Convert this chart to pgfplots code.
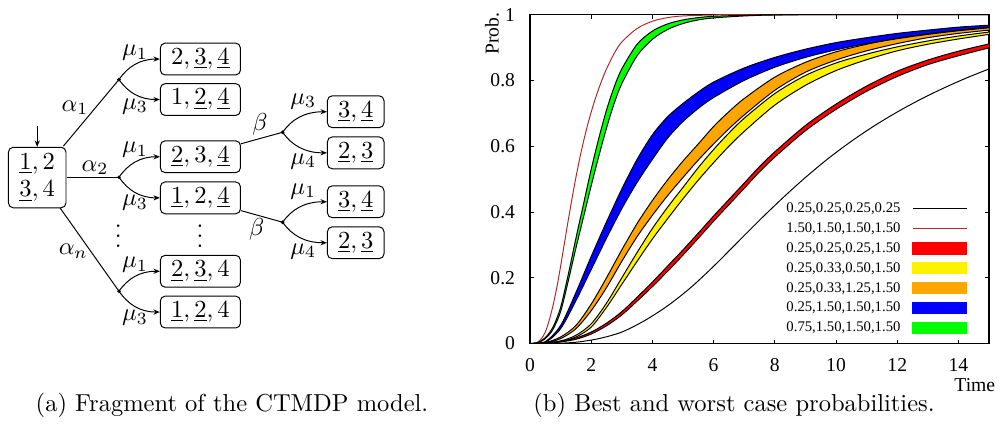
\documentclass[border=0pt]{standalone}
\usepackage{fontspec}
\newfontfamily\gp{Liberation Serif}
\usepackage{pgfplots}
\usepackage{pgfplotstable}
\pgfplotsset{compat=1.18}
\usepgfplotslibrary{fillbetween}
\usetikzlibrary{arrows.meta}
\definecolor{gpBrown}{RGB}{178,40,40}
\definecolor{gpOrange}{RGB}{255,165,0}

\pgfplotstableread{
t p
0 0
0.75 0.0005
1.5 0.004
2.25 0.015
3 0.035
3.75 0.07
4.5 0.115
5.25 0.17
6 0.235
6.75 0.305
7.5 0.375
8.25 0.442
9 0.505
9.75 0.563
10.5 0.615
11.25 0.662
12 0.704
12.75 0.742
13.5 0.776
14.25 0.807
15 0.835
}\tBlk

\pgfplotstableread{
t p
0 0
0.125 0.0005
0.25 0.004
0.375 0.015
0.5 0.035
0.625 0.07
0.75 0.115
0.875 0.17
1.0 0.235
1.125 0.305
1.25 0.375
1.375 0.442
1.5 0.505
1.625 0.563
1.75 0.615
1.875 0.662
2.0 0.704
2.125 0.742
2.25 0.776
2.375 0.807
2.5 0.835
2.75 0.882
3.0 0.917
3.5 0.958
4.0 0.98
4.5 0.991
5.0 0.996
6.0 0.999
7.0 1.0
15 1.0
}\tBrn

\pgfplotstableread{
t hi lo
0 0 0
0.5 0.0015 0.0005
1 0.007 0.005
1.5 0.017 0.013
2 0.035 0.029
2.5 0.062 0.054
3 0.097 0.087
3.5 0.141 0.129
4 0.187 0.173
4.5 0.236 0.220
5 0.285 0.269
5.5 0.336 0.320
6 0.388 0.372
6.5 0.438 0.422
7 0.488 0.472
7.5 0.538 0.522
8 0.583 0.567
9 0.663 0.647
10 0.728 0.712
11 0.783 0.767
12 0.828 0.812
13 0.862 0.848
14 0.889 0.875
15 0.911 0.899
}\tRed

\pgfplotstableread{
t hi lo
0 0 0
0.5 0.002 0.0015
1.0 0.008 0.006
1.5 0.025 0.02
2.0 0.06 0.05
2.5 0.123 0.11
3.0 0.2 0.18
3.5 0.277 0.25
4.0 0.35 0.318
4.5 0.415 0.38
5.0 0.475 0.44
5.5 0.535 0.497
6.0 0.59 0.55
6.5 0.64 0.6
7.0 0.685 0.645
8.0 0.76 0.725
9.0 0.815 0.785
10 0.853 0.83
11 0.88 0.863
12 0.902 0.89
13 0.92 0.91
14 0.935 0.926
15 0.947 0.94
}\tYel

\pgfplotstableread{
t hi lo
0 0 0
0.5 0.003 0.002
1.0 0.02 0.015
1.5 0.055 0.045
2.0 0.12 0.1
2.5 0.2 0.17
3.0 0.285 0.25
3.5 0.365 0.325
4.0 0.435 0.39
4.5 0.498 0.45
5.0 0.555 0.505
5.5 0.607 0.558
6.0 0.66 0.607
6.5 0.705 0.653
7.0 0.745 0.695
8.0 0.81 0.77
9.0 0.855 0.825
10 0.887 0.862
11 0.91 0.89
12 0.928 0.912
13 0.942 0.93
14 0.953 0.943
15 0.962 0.953
}\tOra

\pgfplotstableread{
t hi lo
0 0 0
0.5 0.006 0.004
1.0 0.055 0.045
1.5 0.155 0.13
2.0 0.265 0.225
2.5 0.37 0.32
3.0 0.47 0.41
3.5 0.56 0.49
4.0 0.635 0.56
4.5 0.69 0.625
5.0 0.73 0.675
5.5 0.765 0.715
6.0 0.795 0.748
7 0.838 0.80
8 0.87 0.84
9 0.895 0.87
10 0.915 0.893
11 0.93 0.912
12 0.943 0.927
13 0.953 0.94
14 0.962 0.951
15 0.968 0.96
}\tBlu

\pgfplotstableread{
t hi lo
0 0 0
0.25 0.003 0.002
0.5 0.018 0.015
0.75 0.05 0.043
1.0 0.11 0.097
1.25 0.21 0.19
1.5 0.32 0.29
1.75 0.425 0.385
2.0 0.53 0.48
2.25 0.625 0.57
2.5 0.71 0.655
2.75 0.78 0.73
3.0 0.835 0.79
3.5 0.91 0.875
4.0 0.95 0.925
4.5 0.972 0.955
5.0 0.984 0.973
5.5 0.991 0.984
6.0 0.995 0.99
7 0.998 0.996
8 0.9995 0.999
10 1 1
15 1 1
}\tGrn

\begin{document}
\begin{tikzpicture}
\begin{scope}[x=0.408pt,y=-0.408pt,yshift=176.26pt,
  st/.style={draw,rounded corners=2pt,line width=0.4pt,inner sep=0pt,minimum height=13pt},
  ar/.style={-{Stealth[length=2.6pt,width=2.1pt]},line width=0.4pt}]
% root
\node[st,minimum width=23.5pt,minimum height=24.7pt,align=center] (r) at (37.2,173) {$\underline{1},2$\\[-0.6pt]$\underline{3},4$};
\draw[ar] (37.2,121.7) -- (r.north);
% level 1 boxes
\node[st,minimum width=32.7pt] (b1) at (200.4,54.5) {$2,\underline{3},\underline{4}$};
\node[st,minimum width=32.7pt] (b2) at (200.4,95) {$1,\underline{2},\underline{4}$};
\node[st,minimum width=32.7pt] (b3) at (200.4,152.2) {$\underline{2},3,\underline{4}$};
\node[st,minimum width=32.7pt] (b4) at (200.4,193.3) {$\underline{1},2,\underline{4}$};
\node[st,minimum width=32.7pt] (b5) at (200.4,266.7) {$\underline{2},\underline{3},4$};
\node[st,minimum width=32.7pt] (b6) at (200.4,307.5) {$\underline{1},\underline{2},4$};
% level 2 boxes
\node[st,minimum width=23.1pt] (c1) at (355.7,107.2) {$\underline{3},\underline{4}$};
\node[st,minimum width=23.1pt] (c2) at (355.7,148.3) {$\underline{2},\underline{3}$};
\node[st,minimum width=23.1pt] (c3) at (355.7,197.2) {$\underline{3},\underline{4}$};
\node[st,minimum width=23.1pt] (c4) at (355.7,238.2) {$\underline{2},\underline{3}$};
% alpha lines
\draw[line width=0.4pt] (63.3,141.7) -- (119,75);
\draw[line width=0.4pt] (66.7,172.7) -- (119,172.7);
\draw[line width=0.4pt] (60,203.3) -- (119,286.7);
\fill (119,75) circle (0.8pt);
\fill (119,172.7) circle (0.8pt);
\fill (119,286.7) circle (0.8pt);
% mu arrows level 1
\draw[ar] (119,75) .. controls (128,62) and (140,54.5) .. (b1.west);
\draw[ar] (119,75) .. controls (128,88) and (140,95) .. (b2.west);
\draw[ar] (119,172.7) .. controls (128,159.7) and (140,152.2) .. (b3.west);
\draw[ar] (119,172.7) .. controls (128,185.7) and (140,193.3) .. (b4.west);
\draw[ar] (119,286.7) .. controls (128,273.7) and (140,266.7) .. (b5.west);
\draw[ar] (119,286.7) .. controls (128,299.7) and (140,307.5) .. (b6.west);
% beta lines
\draw[line width=0.4pt] (240.7,139.3) -- (282.7,127.7);
\draw[line width=0.4pt] (240.7,206) -- (282.7,217.7);
\fill (282.7,127.7) circle (0.8pt);
\fill (282.7,217.7) circle (0.8pt);
\draw[ar] (282.7,127.7) .. controls (291.7,114.7) and (304.7,107.2) .. (c1.west);
\draw[ar] (282.7,127.7) .. controls (291.7,140.7) and (304.7,148.3) .. (c2.west);
\draw[ar] (282.7,217.7) .. controls (291.7,204.7) and (304.7,197.2) .. (c3.west);
\draw[ar] (282.7,217.7) .. controls (291.7,230.7) and (304.7,238.2) .. (c4.west);
% labels
\node at (75,103.3) {$\alpha_1$};
\node at (95,163.3) {$\alpha_2$};
\node at (73.3,246.7) {$\alpha_n$};
\node at (135,48.3) {$\mu_1$};
\node at (135,101.7) {$\mu_3$};
\node at (135,145) {$\mu_1$};
\node at (135,198.3) {$\mu_3$};
\node at (135,260) {$\mu_1$};
\node at (135,313.3) {$\mu_3$};
\node at (260,120) {$\beta$};
\node at (256.7,225) {$\beta$};
\node at (303.3,96.7) {$\mu_3$};
\node at (303.3,156.7) {$\mu_4$};
\node at (303.3,186.7) {$\mu_1$};
\node at (303.3,246.7) {$\mu_4$};
\node[inner sep=0pt] at (118.3,224) {$\vdots$};
\node[inner sep=0pt] at (200,224) {$\vdots$};
% captions
\node[anchor=base] at (232,407) {(a) Fragment of the CTMDP model.};
\node[anchor=base] at (734,407) {(b) Best and worst case probabilities.};
\end{scope}

\begin{axis}[at={(216.24pt,37.94pt)}, anchor=south west,
  scale only axis, width=187.3pt, height=134.2pt,
  set layers,
  xmin=0, xmax=15, ymin=0, ymax=1,
  xtick={0,2,...,14}, ytick={0,0.2,...,1.0},
  tick align=inside, major tick length=1.6pt,
  tick style={black,line width=0.4pt},
  axis line style={line width=0.5pt},
  /pgf/number format/assume math mode=true,
  tick label style={font=\gp\fontsize{8}{9}\selectfont},
  yticklabel style={xshift=-2.6pt},
  xticklabel style={yshift=-2.5pt},
  label style={font=\gp\fontsize{8}{9}\selectfont},
  xlabel={Time}, ylabel={Prob.},
  xlabel style={at={(rel axis cs:0.969,-0.125)},anchor=center},
  ylabel style={at={(rel axis cs:-0.083,0.942)},anchor=center},
  legend style={at={(0.9533,0.026)}, anchor=south east, draw=none, fill=none,
    inner sep=0pt, row sep=2.7pt, column sep=4.8pt,
    nodes={inner sep=0pt, text height=4.3pt, text depth=1.1pt},
    font=\gp\fontsize{6}{7}\selectfont},
  legend cell align=right, legend plot pos=right,
]
% thin curves
\addplot[black, line width=0.4pt, smooth, forget plot] table[x=t,y=p]{\tBlk};
\addplot[gpBrown, line width=0.4pt, smooth, forget plot] table[x=t,y=p]{\tBrn};
% red band
\addplot[black, line width=0.4pt, smooth, name path=rH, forget plot] table[x=t,y=hi]{\tRed};
\addplot[black, line width=0.4pt, smooth, name path=rL, forget plot] table[x=t,y=lo]{\tRed};
\addplot[red, forget plot] fill between[of=rH and rL];
% yellow band
\addplot[black, line width=0.4pt, smooth, name path=yH, forget plot] table[x=t,y=hi]{\tYel};
\addplot[black, line width=0.4pt, smooth, name path=yL, forget plot] table[x=t,y=lo]{\tYel};
\addplot[yellow, forget plot] fill between[of=yH and yL];
% orange band
\addplot[black, line width=0.4pt, smooth, name path=oH, forget plot] table[x=t,y=hi]{\tOra};
\addplot[black, line width=0.4pt, smooth, name path=oL, forget plot] table[x=t,y=lo]{\tOra};
\addplot[gpOrange, forget plot] fill between[of=oH and oL];
% blue band
\addplot[black, line width=0.4pt, smooth, name path=bH, forget plot] table[x=t,y=hi]{\tBlu};
\addplot[black, line width=0.4pt, smooth, name path=bL, forget plot] table[x=t,y=lo]{\tBlu};
\addplot[blue, forget plot] fill between[of=bH and bL];
% green band
\addplot[black, line width=0.4pt, smooth, name path=gH, forget plot] table[x=t,y=hi]{\tGrn};
\addplot[black, line width=0.4pt, smooth, name path=gL, forget plot] table[x=t,y=lo]{\tGrn};
\addplot[green, forget plot] fill between[of=gH and gL];
% legend
\addlegendimage{legend image code/.code={\draw[black,line width=0.4pt] (0pt,0pt)--(22pt,0pt);}}
\addlegendentry{0.25,0.25,0.25,0.25}
\addlegendimage{legend image code/.code={\draw[gpBrown,line width=0.4pt] (0pt,0pt)--(22pt,0pt);}}
\addlegendentry{1.50,1.50,1.50,1.50}
\addlegendimage{legend image code/.code={\fill[red] (0pt,-2.25pt) rectangle (22pt,2.25pt);}}
\addlegendentry{0.25,0.25,0.25,1.50}
\addlegendimage{legend image code/.code={\fill[yellow] (0pt,-2.25pt) rectangle (22pt,2.25pt);}}
\addlegendentry{0.25,0.33,0.50,1.50}
\addlegendimage{legend image code/.code={\fill[gpOrange] (0pt,-2.25pt) rectangle (22pt,2.25pt);}}
\addlegendentry{0.25,0.33,1.25,1.50}
\addlegendimage{legend image code/.code={\fill[blue] (0pt,-2.25pt) rectangle (22pt,2.25pt);}}
\addlegendentry{0.25,1.50,1.50,1.50}
\addlegendimage{legend image code/.code={\fill[green] (0pt,-2.25pt) rectangle (22pt,2.25pt);}}
\addlegendentry{0.75,1.50,1.50,1.50}
\end{axis}
\path[use as bounding box] (0,0) rectangle (410.45pt,176.26pt);
\end{tikzpicture}
\end{document}
